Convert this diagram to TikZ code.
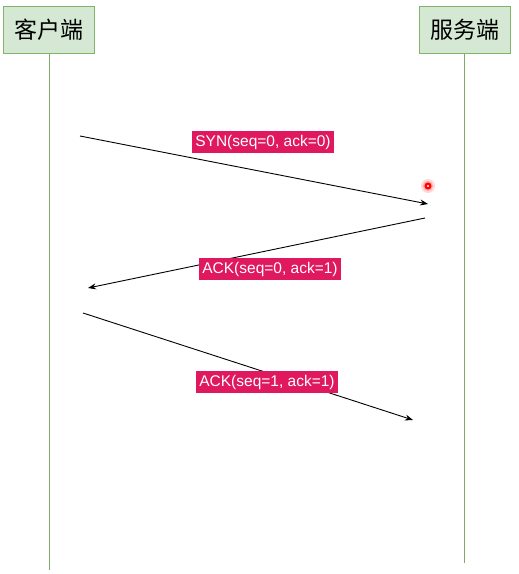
\documentclass[tikz,border=0pt]{standalone}
\usepackage{fontspec}
\setmainfont{Liberation Sans}
\newfontfamily\cjk{Noto Sans CJK SC}
\usepackage{xcolor}
\usetikzlibrary{arrows.meta}
\usetikzlibrary{positioning}

\definecolor{boxfill}{HTML}{D5E8D4}
\definecolor{boxline}{HTML}{82B366}
\definecolor{tagred}{HTML}{E0185E}

\tikzset{
  party/.style={draw=boxline,fill=boxfill,line width=0.9pt,minimum width=91pt,
    minimum height=47pt,inner sep=0pt,font=\cjk\fontsize{23}{26}\selectfont},
  lifeline/.style={draw=boxline!80!gray,line width=0.9pt},
  msg/.style={-{Stealth[length=8pt,width=6pt]},line width=0.9pt},
  tag/.style={fill=tagred,text=white,inner sep=3pt,minimum height=22pt,
    font=\fontsize{15.5}{18}\selectfont}
}

\begin{document}
\begin{tikzpicture}[x=1pt,y=-1pt]
  \useasboundingbox (0,0) rectangle (519,574);
  % parties
  \node[party] (client) at (49,29.5) {客户端};
  \node[party] (server) at (464.5,29.5) {服务端};
  \coordinate (cend) at (49,570);
  \coordinate (send) at (464.5,563);
  \draw[lifeline] (client.south) -- (cend);
  \draw[lifeline] (server.south) -- (send);
  % message ends
  \coordinate (s1) at (80,136);
  \coordinate (e1) at (428,204);
  \coordinate (s2) at (425,218);
  \coordinate (e2) at (88,288);
  \coordinate (s3) at (83,313);
  \coordinate (e3) at (413,420);
  \draw[msg] (s1) -- (e1);
  \draw[msg] (s2) -- (e2);
  \draw[msg] (s3) -- (e3);
  % labels
  \node[tag] (syn) at (263,142) {SYN(seq=0, ack=0)};
  \node[tag] (ack1) at (270,269) {ACK(seq=0, ack=1)};
  \node[tag] (ack2) at (267,382) {ACK(seq=1, ack=1)};
  % pointer dot
  \fill[red!15] (428,186) circle (7pt);
  \fill[red!35] (428,186) circle (5pt);
  \fill[red] (428,186) circle (3.5pt);
  \fill[white] (428,186) circle (1.2pt);
\end{tikzpicture}
\end{document}
